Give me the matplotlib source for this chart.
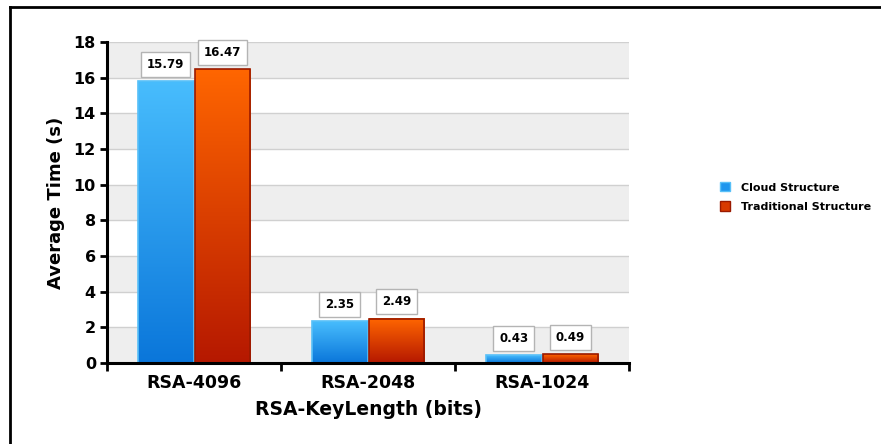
import numpy as np
import matplotlib
matplotlib.use('Agg')
import matplotlib.pyplot as plt
from matplotlib.colors import LinearSegmentedColormap
from matplotlib.patches import Patch
from matplotlib.lines import Line2D

categories = ['RSA-4096', 'RSA-2048', 'RSA-1024']
cloud = [15.79, 2.35, 0.43]
traditional = [16.47, 2.49, 0.49]
series_names = ['Cloud Structure', 'Traditional Structure']
yticks = [0, 2, 4, 6, 8, 10, 12, 14, 16, 18]

plt.rcParams['font.family'] = ['DejaVu Sans']
plt.rcParams['font.weight'] = 'bold'

fig = plt.figure(figsize=(8.81, 4.44), dpi=100)
ax = fig.add_axes([0.1215, 0.1824, 0.5925, 0.723])

# alternating bands + grid
for lo in yticks[:-1:2]:
    ax.axhspan(lo, lo + 2, color='#eeeeee', zorder=0, lw=0)
for y in yticks[1:]:
    ax.axhline(y, color='#d0d0d0', lw=1, zorder=1)

blue_cm = LinearSegmentedColormap.from_list('b', ['#0a76da', '#48bdfd'])
red_cm = LinearSegmentedColormap.from_list('r', ['#b51800', '#ff6600'])
grad = np.linspace(0, 1, 256).reshape(-1, 1)

x = np.arange(len(categories))
w = 0.32
off = 0.163
series = [(cloud, -off, blue_cm, '#58c0f8', '#1e96ee'),
          (traditional, off, red_cm, '#9a1a00', '#d83a00')]

for vals, dx, cm, ec, lc in series:
    bars = ax.bar(x + dx, vals, width=w, facecolor='none', edgecolor=ec,
                  lw=1.2, zorder=4)
    for b, v in zip(bars, vals):
        ax.imshow(grad, cmap=cm, origin='lower', aspect='auto',
                  extent=(b.get_x(), b.get_x() + w, 0, v), zorder=3)
        ax.annotate(f'{v:.2f}', (b.get_x() + w / 2, v), xytext=(0, 17),
                    textcoords='offset pixels', ha='center', va='center',
                    fontsize=8.5, fontweight='bold', zorder=6,
                    bbox=dict(boxstyle='square,pad=0.5', fc='white',
                              ec='#b4b4b4', lw=1))

ax.set_xlim(-0.5, 2.5)
ax.set_ylim(0, 18)
ax.set_yticks(yticks)
ax.set_xticks(x)
ax.set_xticklabels(categories)
ax.set_xticks([-0.5, 0.5, 1.5, 2.5], minor=True)
ax.tick_params(axis='x', which='major', length=0, pad=8, labelsize=12.5)
ax.tick_params(axis='x', which='minor', length=6, width=2, direction='out')
ax.tick_params(axis='y', length=5, width=2, pad=3, labelsize=11.5)
for lab in ax.get_xticklabels() + ax.get_yticklabels():
    lab.set_fontweight('bold')

for s in ['top', 'right']:
    ax.spines[s].set_visible(False)
for s in ['left', 'bottom']:
    ax.spines[s].set_linewidth(2.2)
    ax.spines[s].set_zorder(7)

ax.set_ylabel('Average Time (s)', fontsize=13, fontweight='bold', labelpad=6)
ax.set_xlabel('RSA-KeyLength (bits)', fontsize=13.5, fontweight='bold', labelpad=6)

handles = [Patch(facecolor=s[4], edgecolor=s[3]) for s in series]
fig.legend(handles, series_names, loc='center left',
           bbox_to_anchor=(720 / 881, 1 - 197 / 444), frameon=False,
           prop={'size': 8, 'weight': 'bold'}, handlelength=0.9,
           handleheight=0.9, handletextpad=1.0, labelspacing=0.8,
           borderaxespad=0, borderpad=0)

# figure frame (top and left edges)
fig.add_artist(Line2D([10 / 881, 1], [1 - 7 / 444, 1 - 7 / 444],
                      transform=fig.transFigure, color='black', lw=2))
fig.add_artist(Line2D([10 / 881, 10 / 881], [0, 1 - 7 / 444],
                      transform=fig.transFigure, color='black', lw=2))

fig.savefig('out.png', dpi=100)
